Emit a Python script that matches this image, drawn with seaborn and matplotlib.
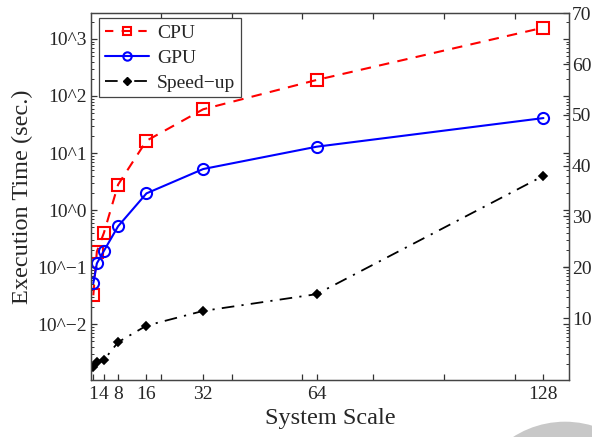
import numpy as np
import pandas as pd
import matplotlib
matplotlib.use("Agg")
import matplotlib.pyplot as plt
import matplotlib.ticker as mticker
import matplotlib.lines as mlines
from matplotlib.patches import Circle
import seaborn as sns

# ---- data ----
scale = [1, 2, 4, 8, 16, 32, 64, 128]
cpu_time = [0.032, 0.187, 0.40, 2.8, 16.4, 58.5, 191, 1580]
gpu_time = [0.052, 0.116, 0.193, 0.52, 1.96, 5.24, 12.9, 41]
speedup = [0.45, 1.4, 1.75, 5.25, 8.5, 11.4, 14.7, 38]

x_ticks = [1, 4, 8, 16, 32, 64, 128]
x_minor_ticks = [20, 40, 60, 80, 100, 120]
y_ticks = [1e-2, 1e-1, 1e0, 1e1, 1e2, 1e3]
y_ticklabels = ["10^\u22122", "10^\u22121", "10^0", "10^1", "10^2", "10^3"]
y2_ticks = [10, 20, 30, 40, 50, 60, 70]
series_labels = ["CPU", "GPU", "Speed\u2212up"]

sns.set_theme(style="ticks")
plt.rcParams["font.family"] = ["Liberation Serif", "DejaVu Serif"]

fig = plt.figure(figsize=(5.92, 4.37), dpi=100)
ax = fig.add_axes([91 / 592, 1 - 380 / 437, (569.3 - 91) / 592, (380 - 13.3) / 437])
ax2 = ax.twinx()

df = pd.DataFrame({"scale": scale, "cpu": cpu_time, "gpu": gpu_time, "speedup": speedup})

sns.lineplot(data=df, x="scale", y="cpu", ax=ax, color="#ff0000", linestyle=(0, (5, 4)),
             marker="s", markersize=8, markerfacecolor="none", markeredgecolor="#ff0000",
             markeredgewidth=1.5, linewidth=1.5, legend=False)
sns.lineplot(data=df, x="scale", y="gpu", ax=ax, color="#0000ff", linestyle="-",
             marker="o", markersize=8, markerfacecolor="none", markeredgecolor="#0000ff",
             markeredgewidth=1.5, linewidth=1.5, legend=False)
sns.lineplot(data=df, x="scale", y="speedup", ax=ax2, color="black", linestyle=(0, (7, 4, 1.2, 4)),
             marker="D", markersize=4.5, markerfacecolor="black", markeredgecolor="black",
             markeredgewidth=1.2, linewidth=1.3, legend=False)

ax.set_yscale("log")
ax.set_xlim(0.35, 135.3)
ax.set_ylim(10 ** -2.98, 10 ** 3.45)
ax2.set_ylim(-2.2, 70)

fs = 14
ax.set_xticks(x_ticks)
ax.set_xticklabels([str(v) for v in x_ticks], fontsize=fs)
ax.xaxis.set_minor_locator(mticker.FixedLocator(x_minor_ticks))
ax.set_yticks(y_ticks)
ax.set_yticklabels(y_ticklabels, fontsize=fs)
ax.yaxis.set_minor_locator(mticker.LogLocator(base=10, subs=np.arange(2, 10), numticks=20))
ax.yaxis.set_minor_formatter(mticker.NullFormatter())

ax2.set_yticks(y2_ticks)
ax2.set_yticklabels([str(v) for v in y2_ticks], fontsize=fs)
ax2.yaxis.set_minor_locator(mticker.NullLocator())

tc = "#333333"
ax.tick_params(axis="x", which="major", direction="in", length=4.5, width=0.9, color=tc,
               bottom=True, top=False, pad=4)
ax.tick_params(axis="x", which="minor", direction="in", length=4.5, width=0.9, color=tc,
               bottom=True, top=True)
ax.tick_params(axis="y", which="major", direction="in", length=4.5, width=0.9, color=tc,
               left=True, right=True, pad=3)
ax.tick_params(axis="y", which="minor", direction="in", length=2.5, width=0.7, color=tc,
               left=True, right=True)
ax2.tick_params(axis="y", which="major", direction="in", length=4.5, width=0.9, color=tc,
                right=True, left=False, pad=2)
ax2.tick_params(axis="x", which="both", bottom=False, top=False)

for a in (ax, ax2):
    for s in a.spines.values():
        s.set_visible(True)
        s.set_color("#444444")
        s.set_linewidth(0.9)

ax.set_xlabel("System Scale", fontsize=17.5, labelpad=4)
ax.set_ylabel("Execution Time (sec.)", fontsize=17.5, labelpad=3)
ax2.set_ylabel("")

hs = [
    mlines.Line2D([], [], color="#ff0000", linestyle=(0, (4, 4)), marker="s", markersize=6,
                  markerfacecolor="none", markeredgewidth=1.5, linewidth=1.5),
    mlines.Line2D([], [], color="#0000ff", linestyle="-", marker="o", markersize=6,
                  markerfacecolor="none", markeredgewidth=1.5, linewidth=1.5),
    mlines.Line2D([], [], color="black", linestyle=(0, (7, 4, 1.2, 4)), marker="D", markersize=4,
                  markerfacecolor="black", linewidth=1.3),
]
leg = ax2.legend(hs, series_labels, loc="upper left", bbox_to_anchor=(0.0165, 0.987), fontsize=14,
                 frameon=True, fancybox=False, framealpha=1, edgecolor="#444444",
                 handlelength=2.3, handletextpad=0.4, borderpad=0.3, labelspacing=0.38,
                 borderaxespad=0)
leg.get_frame().set_linewidth(0.9)

circ = Circle((565, 437 - 517.7), 96, transform=None, facecolor="#c8c8c8", edgecolor="none", zorder=-5)
fig.patches.append(circ)

fig.savefig("out.png", dpi=100)
